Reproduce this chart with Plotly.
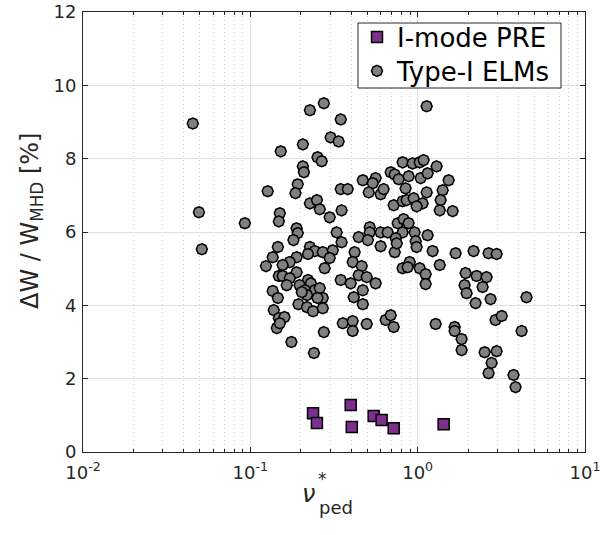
import plotly.graph_objects as go

# ---- data ----
elm_nu = [0.0453, 0.0493, 0.0513, 0.0927, 0.127, 0.152, 0.150, 0.148, 0.146, 0.136,
          0.124, 0.148, 0.136, 0.146, 0.138, 0.148, 0.144, 0.176, 0.240,
          0.275, 0.227, 0.347, 0.302, 0.337, 0.206, 0.252, 0.267, 0.206, 0.209,
          0.192, 0.186, 0.347, 0.382, 0.227, 0.250, 0.260, 0.351, 0.298,
          0.470, 0.561, 0.539, 0.510, 0.601, 0.626, 1.132, 0.813, 0.933, 1.028,
          1.086, 1.298, 1.531, 0.690, 0.729, 0.770, 0.883, 1.042, 1.147, 0.847,
          1.132, 1.41, 0.719, 0.813, 0.859, 0.946, 1.071, 0.986, 1.372, 1.355,
          1.618, 0.760, 0.824, 0.883, 0.959, 0.813, 1.147, 0.517, 0.517, 0.601,
          0.662, 0.444, 0.328, 0.351, 0.504, 0.740, 0.729, 0.601, 0.973, 0.986,
          1.229, 1.686, 2.159, 2.653, 2.964, 0.189, 0.192, 0.181, 0.227, 0.243,
          0.271, 0.311, 0.420, 0.221, 0.189, 0.172, 0.156, 0.298, 0.278, 0.409,
          0.463, 0.189, 0.156, 0.172, 0.221, 0.230, 0.197, 0.165, 0.212, 0.243,
          0.260, 0.271, 0.252, 0.218, 0.203, 0.194, 0.218, 0.237, 0.271, 0.160,
          0.150, 0.275, 0.444, 0.496, 0.561, 0.470, 0.415, 0.470, 0.347, 0.398,
          0.357, 0.409, 0.409, 0.496, 0.644, 0.690, 0.719, 0.813, 0.896, 0.871,
          1.028, 1.116, 1.116, 1.355, 1.281, 1.663, 1.663, 1.831, 1.831, 1.934,
          1.907, 1.961, 2.25, 2.582, 2.444, 2.218, 2.728, 4.47, 2.92, 3.18,
          4.18, 2.512, 2.964, 2.766, 2.653, 3.74, 3.845, 0.750]
elm_dw = [8.96, 6.54, 5.53, 6.24, 7.11, 8.20, 6.51, 6.29, 5.59, 5.31,
          5.07, 4.80, 4.39, 4.20, 3.87, 3.65, 3.38, 3.00, 2.70,
          9.51, 9.32, 9.07, 8.58, 8.47, 8.39, 8.04, 7.93, 7.79, 7.63,
          7.30, 7.06, 7.17, 7.17, 6.78, 6.87, 6.62, 6.59, 6.40,
          7.41, 7.47, 7.33, 7.08, 7.03, 7.17, 9.43, 7.90, 7.87, 7.90,
          7.96, 7.79, 7.41, 7.63, 7.57, 7.44, 7.52, 7.47, 7.60, 7.19,
          7.08, 7.14, 6.73, 6.84, 6.87, 6.92, 6.78, 6.70, 6.87, 6.59,
          6.57, 6.24, 6.35, 6.24, 5.99, 5.99, 5.91, 6.13, 5.99, 5.99,
          5.99, 5.86, 5.99, 5.72, 5.78, 5.83, 5.45, 5.61, 5.75, 5.59,
          5.48, 5.42, 5.48, 5.42, 5.40, 6.10, 5.97, 5.78, 5.59, 5.48,
          5.45, 5.50, 5.45, 5.40, 5.31, 5.18, 5.10, 5.29, 5.01, 5.18,
          5.07, 4.90, 4.80, 4.74, 4.69, 4.60, 4.55, 4.55, 4.41, 4.41,
          4.47, 4.20, 4.20, 4.28, 4.36, 4.03, 3.95, 3.84, 3.92, 3.68,
          3.51, 3.27, 4.82, 4.77, 4.60, 4.41, 4.22, 4.03, 4.69, 4.60,
          3.51, 3.57, 3.30, 3.49, 3.60, 3.73, 3.41, 5.01, 5.18, 5.04,
          5.01, 4.85, 4.58, 5.10, 3.49, 3.41, 3.30, 3.08, 2.78, 4.88,
          4.55, 4.33, 4.80, 4.77, 4.50, 4.06, 4.17, 4.22, 3.60, 3.71,
          3.30, 2.72, 2.75, 2.43, 2.15, 2.10, 1.77, 5.69]

pre_nu = [0.237, 0.250, 0.398, 0.404, 0.546, 0.609, 0.719, 1.43]
pre_dw = [1.06, 0.79, 1.28, 0.68, 0.98, 0.87, 0.65, 0.76]

x_tickvals = [0.01, 0.1, 1, 10]
x_ticktext = ["10<sup>-2</sup>", "10<sup>-1</sup>", "10<sup>0</sup>", "10<sup>1</sup>"]
y_tickvals = [0, 2, 4, 6, 8, 10, 12]

FONT = "DejaVu Sans"
AX = "#262626"

fig = go.Figure()
fig.add_trace(go.Scatter(
    x=pre_nu, y=pre_dw, mode="markers", name="I-mode PRE", legend="legend",
    marker=dict(symbol="square", size=11, color="#7E2F8E",
                line=dict(color="black", width=1.5))))
fig.add_trace(go.Scatter(
    x=elm_nu, y=elm_dw, mode="markers", name="Type-I ELMs", legend="legend2",
    marker=dict(symbol="octagon", angle=22.5, size=11, color="#808080",
                line=dict(color="black", width=1.5))))

minor_vals = [m * 10.0 ** e for e in (-2, -1, 0) for m in range(2, 10)]

L, R, T, B = 83, 20, 12, 83
W, H = 605, 535
PW, PH = W - L - R, H - T - B


def px(xp):
    return (xp - L) / PW


def py(yp):
    return (H - B - yp) / PH


leg_common = dict(bgcolor="rgba(0,0,0,0)", borderwidth=0, itemwidth=30,
                  font=dict(family=FONT, size=26, color="black"),
                  xanchor="left", yanchor="middle")

fig.update_layout(
    width=W, height=H,
    margin=dict(l=L, r=R, t=T, b=B),
    paper_bgcolor="white", plot_bgcolor="white",
    font=dict(family=FONT, size=18, color=AX),
    showlegend=True,
    legend=dict(x=px(357), y=py(37), **leg_common),
    legend2=dict(x=px(357), y=py(71), **leg_common),
    shapes=[dict(type="rect", xref="paper", yref="paper",
                 x0=px(358), x1=px(561), y0=py(88), y1=py(23),
                 fillcolor="white", line=dict(color=AX, width=1), layer="above")],
    xaxis=dict(type="log", range=[-2, 1], automargin=False,
               tickmode="array", tickvals=x_tickvals, ticktext=x_ticktext,
               ticks="inside", ticklen=5, tickcolor=AX, ticklabelstandoff=4,
               showline=True, linecolor=AX, linewidth=1, mirror="ticks",
               showgrid=True, gridcolor="#e0e0e0", gridwidth=1,
               zeroline=False,
               tickfont=dict(family=FONT, size=18, color=AX),
               minor=dict(tickmode="array", tickvals=minor_vals,
                          ticks="inside", ticklen=3, tickcolor=AX,
                          showgrid=True, gridcolor="#d0d0d0", griddash="1px,3px", gridwidth=1)),
    yaxis=dict(range=[0, 12], tickmode="array", tickvals=y_tickvals, automargin=False,
               ticks="inside", ticklen=5, tickcolor=AX, ticklabelstandoff=2,
               showline=True, linecolor=AX, linewidth=1, mirror="ticks",
               showgrid=True, gridcolor="#e0e0e0", gridwidth=1,
               zeroline=False,
               tickfont=dict(family=FONT, size=18, color=AX)),
    annotations=[
        dict(text="ΔW / W<sub>MHD</sub> [%]", xref="paper", yref="paper",
             x=px(31), y=py(221), textangle=-90,
             xanchor="center", yanchor="middle", showarrow=False,
             font=dict(family=FONT, size=24, color=AX)),
        dict(text="<i>ν</i>", xref="paper", yref="paper", x=px(308), y=py(494),
             xanchor="center", yanchor="middle", showarrow=False,
             font=dict(family=FONT, size=24, color=AX)),
        dict(text="*", xref="paper", yref="paper", x=px(322), y=py(479),
             xanchor="center", yanchor="middle", showarrow=False,
             font=dict(family=FONT, size=17, color=AX)),
        dict(text="ped", xref="paper", yref="paper", x=px(336), y=py(507),
             xanchor="center", yanchor="middle", showarrow=False,
             font=dict(family=FONT, size=18, color=AX)),
    ],
)

fig.write_html("out.html")
